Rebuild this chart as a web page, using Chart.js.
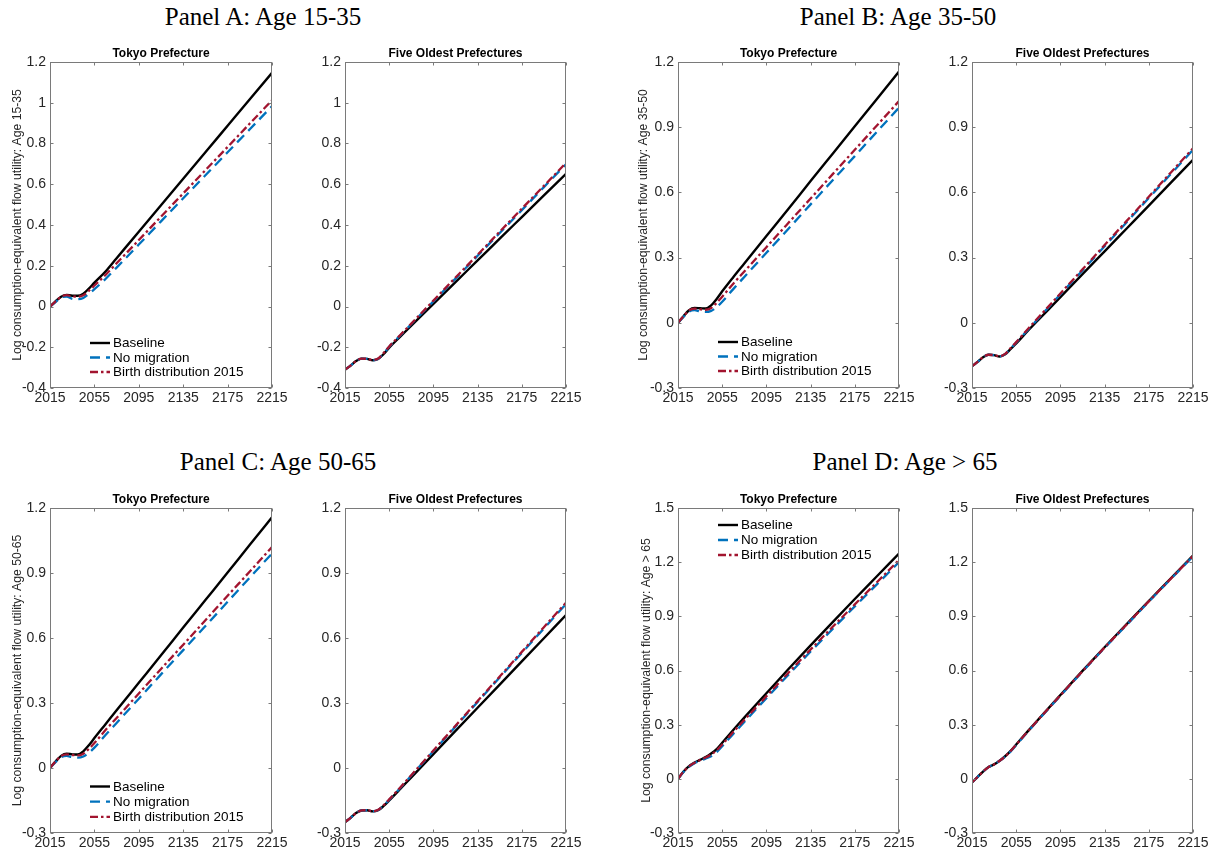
<!DOCTYPE html>
<html>
<head>
<meta charset="utf-8">
<script src="https://cdn.jsdelivr.net/npm/chart.js@4.4.1/dist/chart.umd.min.js"></script>
<style>
  body { margin: 0; background: #fff; width: 1216px; height: 856px; position: relative; overflow: hidden; }
  .ptitle { position: absolute; font-family: "Liberation Serif", serif; font-size: 25px; line-height: 25px; color: #000; white-space: nowrap; transform: translateX(-50%); }
  canvas { position: absolute; }
</style>
</head>
<body>
<div class="ptitle" style="left:263px;top:4px">Panel A: Age 15-35</div>
<div class="ptitle" style="left:898px;top:4px">Panel B: Age 35-50</div>
<div class="ptitle" style="left:278px;top:449px">Panel C: Age 50-65</div>
<div class="ptitle" style="left:905px;top:449px">Panel D: Age &gt; 65</div>

<canvas id="tokyoA"></canvas>
<canvas id="oldA"></canvas>
<canvas id="tokyoB"></canvas>
<canvas id="oldB"></canvas>
<canvas id="tokyoC"></canvas>
<canvas id="oldC"></canvas>
<canvas id="tokyoD"></canvas>
<canvas id="oldD"></canvas>

<script>
const years = [2015, 2020, 2025, 2030, 2035, 2040, 2045, 2050, 2055, 2065, 2075, 2095, 2115, 2135, 2155, 2175, 2195, 2215];
const xTicks = [2015, 2055, 2095, 2135, 2175, 2215];
const yTicksA = [-0.4, -0.2, 0, 0.2, 0.4, 0.6, 0.8, 1, 1.2];
const yTicksB = [-0.3, 0, 0.3, 0.6, 0.9, 1.2];
const yTicksC = [-0.3, 0, 0.3, 0.6, 0.9, 1.2];
const yTicksD = [-0.3, 0, 0.3, 0.6, 0.9, 1.2, 1.5];
const seriesNames = ['Baseline', 'No migration', 'Birth distribution 2015'];

// Panel A: Age 15-35
const tokyoA_base  = [0, 0.025, 0.048, 0.057, 0.053, 0.053, 0.063, 0.088, 0.117, 0.172, 0.237, 0.367, 0.497, 0.627, 0.757, 0.887, 1.017, 1.147];
const tokyoA_nomig = [0, 0.022, 0.044, 0.048, 0.038, 0.036, 0.042, 0.062, 0.085, 0.135, 0.191, 0.304, 0.418, 0.531, 0.644, 0.757, 0.870, 0.983];
const tokyoA_birth = [0, 0.025, 0.048, 0.056, 0.050, 0.048, 0.055, 0.077, 0.103, 0.155, 0.212, 0.326, 0.441, 0.555, 0.669, 0.783, 0.898, 1.012];
const oldA_base  = [-0.31, -0.29, -0.268, -0.256, -0.257, -0.264, -0.258, -0.233, -0.202, -0.148, -0.094, 0.013, 0.120, 0.226, 0.333, 0.439, 0.545, 0.651];
const oldA_nomig = [-0.31, -0.29, -0.268, -0.256, -0.257, -0.264, -0.256, -0.230, -0.198, -0.142, -0.086, 0.025, 0.137, 0.249, 0.361, 0.473, 0.586, 0.698];
const oldA_birth = [-0.31, -0.29, -0.268, -0.256, -0.257, -0.263, -0.255, -0.228, -0.196, -0.140, -0.084, 0.029, 0.142, 0.254, 0.367, 0.480, 0.592, 0.705];

// Panel B: Age 35-50
const tokyoB_base  = [0, 0.030, 0.058, 0.068, 0.067, 0.066, 0.080, 0.110, 0.145, 0.210, 0.273, 0.399, 0.525, 0.652, 0.778, 0.904, 1.030, 1.156];
const tokyoB_nomig = [0, 0.027, 0.052, 0.058, 0.052, 0.050, 0.055, 0.072, 0.097, 0.155, 0.211, 0.322, 0.433, 0.545, 0.656, 0.767, 0.879, 0.990];
const tokyoB_birth = [0, 0.030, 0.057, 0.065, 0.062, 0.060, 0.068, 0.092, 0.120, 0.180, 0.236, 0.348, 0.460, 0.572, 0.684, 0.796, 0.908, 1.020];
const oldB_base  = [-0.2, -0.18, -0.158, -0.147, -0.149, -0.155, -0.145, -0.120, -0.095, -0.040, 0.013, 0.118, 0.224, 0.329, 0.434, 0.539, 0.645, 0.750];
const oldB_nomig = [-0.2, -0.18, -0.158, -0.147, -0.149, -0.155, -0.144, -0.118, -0.091, -0.035, 0.020, 0.131, 0.241, 0.352, 0.463, 0.574, 0.685, 0.796];
const oldB_birth = [-0.2, -0.18, -0.158, -0.147, -0.149, -0.154, -0.143, -0.116, -0.089, -0.032, 0.024, 0.135, 0.246, 0.358, 0.469, 0.580, 0.692, 0.803];

// Panel C: Age 50-65
const tokyoC_base  = [0, 0.030, 0.056, 0.066, 0.063, 0.062, 0.077, 0.105, 0.138, 0.202, 0.266, 0.393, 0.520, 0.648, 0.775, 0.902, 1.030, 1.157];
const tokyoC_nomig = [0, 0.027, 0.050, 0.056, 0.050, 0.048, 0.053, 0.070, 0.094, 0.152, 0.208, 0.320, 0.432, 0.544, 0.655, 0.767, 0.879, 0.990];
const tokyoC_birth = [0, 0.030, 0.055, 0.063, 0.060, 0.058, 0.066, 0.088, 0.115, 0.175, 0.231, 0.344, 0.457, 0.569, 0.682, 0.795, 0.907, 1.020];
const oldC_base  = [-0.25, -0.23, -0.208, -0.196, -0.195, -0.200, -0.195, -0.175, -0.150, -0.097, -0.043, 0.064, 0.171, 0.278, 0.385, 0.492, 0.599, 0.706];
const oldC_nomig = [-0.25, -0.23, -0.208, -0.196, -0.195, -0.200, -0.194, -0.172, -0.147, -0.092, -0.035, 0.078, 0.191, 0.305, 0.418, 0.531, 0.644, 0.757];
const oldC_birth = [-0.25, -0.23, -0.208, -0.196, -0.195, -0.199, -0.193, -0.171, -0.145, -0.090, -0.033, 0.081, 0.195, 0.309, 0.422, 0.536, 0.650, 0.763];

// Panel D: Age > 65
const tokyoD_base  = [0, 0.040, 0.070, 0.090, 0.105, 0.120, 0.140, 0.165, 0.200, 0.270, 0.339, 0.474, 0.608, 0.739, 0.868, 0.996, 1.122, 1.248];
const tokyoD_nomig = [0, 0.038, 0.067, 0.087, 0.100, 0.112, 0.125, 0.148, 0.180, 0.249, 0.315, 0.447, 0.577, 0.705, 0.830, 0.955, 1.077, 1.200];
const tokyoD_birth = [0, 0.040, 0.069, 0.089, 0.104, 0.118, 0.135, 0.158, 0.190, 0.259, 0.326, 0.457, 0.588, 0.716, 0.842, 0.966, 1.089, 1.212];
const oldD_base  = [-0.02, 0.010, 0.040, 0.065, 0.080, 0.100, 0.125, 0.155, 0.190, 0.260, 0.329, 0.464, 0.598, 0.729, 0.857, 0.985, 1.111, 1.237];
const oldD_nomig = [-0.02, 0.010, 0.040, 0.065, 0.080, 0.100, 0.123, 0.152, 0.187, 0.257, 0.326, 0.460, 0.594, 0.725, 0.853, 0.981, 1.107, 1.232];
const oldD_birth = [-0.02, 0.010, 0.040, 0.065, 0.080, 0.100, 0.124, 0.154, 0.189, 0.259, 0.328, 0.462, 0.596, 0.727, 0.855, 0.983, 1.109, 1.234];

Chart.defaults.font.family = '"Liberation Sans", Arial, sans-serif';
Chart.defaults.color = '#262626';

const lineStyles = [
  { color: '#000000', dash: [], order: 3, width: 2.4 },
  { color: '#0072BD', dash: [10, 6], order: 2, width: 2.3 },
  { color: '#A2142F', dash: [8, 3, 2.5, 3], order: 1, width: 2.3 }
];

// frame, inside ticks, subplot title and in-plot legend (matlab look)
const decor = {
  id: 'decor',
  afterDraw(chart, args, opts) {
    const { ctx, chartArea: a } = chart;
    const xs = chart.scales.x, ys = chart.scales.y;
    ctx.save();
    const l = Math.round(a.left) + 0.5, r = Math.round(a.right) - 0.5;
    const t = Math.round(a.top) + 0.5, b = Math.round(a.bottom) - 0.5;
    ctx.strokeStyle = '#7a7a7a';
    ctx.lineWidth = 1;
    ctx.setLineDash([]);
    ctx.strokeRect(l, t, r - l, b - t);
    const tl = 3;
    ctx.beginPath();
    xs.ticks.forEach(tk => {
      const px = Math.round(xs.getPixelForValue(tk.value)) + 0.5;
      ctx.moveTo(px, b); ctx.lineTo(px, b - tl);
      ctx.moveTo(px, t); ctx.lineTo(px, t + tl);
    });
    ys.ticks.forEach(tk => {
      const py = Math.round(ys.getPixelForValue(tk.value)) + 0.5;
      ctx.moveTo(l, py); ctx.lineTo(l + tl, py);
      ctx.moveTo(r, py); ctx.lineTo(r - tl, py);
    });
    ctx.stroke();

    ctx.fillStyle = '#000';
    ctx.font = 'bold 12px "Liberation Sans"';
    ctx.textAlign = 'center';
    ctx.textBaseline = 'alphabetic';
    ctx.fillText(opts.title, (a.left + a.right) / 2, a.top - 4.7);

    if (opts.legend) {
      const lg = opts.legend;
      ctx.font = '13.5px "Liberation Sans"';
      ctx.textAlign = 'left';
      ctx.textBaseline = 'middle';
      chart.data.datasets.forEach((ds, i) => {
        const yy = a.top + lg.dy + i * lg.row;
        const x0 = a.left + lg.dx;
        ctx.strokeStyle = ds.borderColor;
        ctx.lineWidth = ds.borderWidth;
        ctx.setLineDash(ds.borderDash);
        ctx.beginPath();
        ctx.moveTo(x0, yy); ctx.lineTo(x0 + 20, yy);
        ctx.stroke();
        ctx.fillStyle = '#000';
        ctx.fillText(ds.label, x0 + 23, yy + 0.5);
      });
    }
    ctx.restore();
  }
};

function makeChart(id, box, yTicks, series, opts) {
  const L = 50, T = 30, R = 18, B = 22;
  const cv = document.getElementById(id);
  cv.width = L + box.w + R;
  cv.height = T + box.h + B;
  cv.style.left = (box.x - L) + 'px';
  cv.style.top = (box.y - T) + 'px';

  const datasets = series.map((vals, i) => ({
    label: seriesNames[i],
    data: years.map((yr, k) => ({ x: yr, y: vals[k] })),
    borderColor: lineStyles[i].color,
    borderDash: lineStyles[i].dash,
    borderWidth: lineStyles[i].width,
    order: lineStyles[i].order,
    pointRadius: 0,
    fill: false,
    cubicInterpolationMode: 'monotone'
  }));

  new Chart(cv, {
    type: 'line',
    data: { datasets },
    options: {
      responsive: false,
      animation: false,
      devicePixelRatio: 1,
      layout: { padding: { left: 0, top: T, right: R, bottom: 0 } },
      plugins: {
        legend: { display: false },
        tooltip: { enabled: false },
        decor: { title: opts.title, legend: opts.legend }
      },
      scales: {
        x: {
          type: 'linear',
          min: xTicks[0],
          max: xTicks[xTicks.length - 1],
          grid: { display: false, drawTicks: false },
          border: { display: false },
          afterBuildTicks: s => { s.ticks = xTicks.map(v => ({ value: v })); },
          afterFit: s => { s.height = B; s.paddingLeft = 0; s.paddingRight = 0; },
          ticks: {
            autoSkip: false, maxRotation: 0, padding: 1.5,
            font: { size: 14 }, color: '#262626',
            callback: v => String(v)
          }
        },
        y: {
          min: yTicks[0],
          max: yTicks[yTicks.length - 1],
          grid: { display: false, drawTicks: false },
          border: { display: false },
          afterBuildTicks: s => { s.ticks = yTicks.map(v => ({ value: v })); },
          afterFit: s => { s.width = L; s.paddingTop = 0; s.paddingBottom = 0; },
          ticks: {
            autoSkip: false, padding: 4,
            font: { size: 14 }, color: '#262626',
            callback: v => String(+Number(v).toFixed(1))
          },
          title: {
            display: !!opts.ytitle,
            text: opts.ytitle || '',
            color: '#262626',
            font: { size: 12.2 },
            padding: { top: L - (opts.ygap || 32) - 7.3, bottom: 0 }
          }
        }
      }
    },
    plugins: [decor]
  });
}

const ylab = 'Log consumption-equivalent flow utility: ';

makeChart('tokyoA', { x: 50, y: 62, w: 222, h: 326 }, yTicksA, [tokyoA_base, tokyoA_nomig, tokyoA_birth],
  { title: 'Tokyo Prefecture', ytitle: ylab + 'Age 15-35', ygap: 32, legend: { dx: 40, dy: 281, row: 14.5 } });
makeChart('oldA', { x: 345, y: 62, w: 221, h: 326 }, yTicksA, [oldA_base, oldA_nomig, oldA_birth],
  { title: 'Five Oldest Prefectures' });

makeChart('tokyoB', { x: 678, y: 62, w: 221, h: 326 }, yTicksB, [tokyoB_base, tokyoB_nomig, tokyoB_birth],
  { title: 'Tokyo Prefecture', ytitle: ylab + 'Age 35-50', ygap: 34, legend: { dx: 40, dy: 280, row: 14.5 } });
makeChart('oldB', { x: 972, y: 62, w: 221, h: 326 }, yTicksB, [oldB_base, oldB_nomig, oldB_birth],
  { title: 'Five Oldest Prefectures' });

makeChart('tokyoC', { x: 50, y: 508, w: 222, h: 325 }, yTicksC, [tokyoC_base, tokyoC_nomig, tokyoC_birth],
  { title: 'Tokyo Prefecture', ytitle: ylab + 'Age 50-65', ygap: 32, legend: { dx: 40, dy: 278.5, row: 15.2 } });
makeChart('oldC', { x: 345, y: 508, w: 221, h: 325 }, yTicksC, [oldC_base, oldC_nomig, oldC_birth],
  { title: 'Five Oldest Prefectures' });

makeChart('tokyoD', { x: 678, y: 508, w: 221, h: 325 }, yTicksD, [tokyoD_base, tokyoD_nomig, tokyoD_birth],
  { title: 'Tokyo Prefecture', ytitle: ylab + 'Age > 65', ygap: 31, legend: { dx: 40, dy: 17, row: 15 } });
makeChart('oldD', { x: 972, y: 508, w: 221, h: 325 }, yTicksD, [oldD_base, oldD_nomig, oldD_birth],
  { title: 'Five Oldest Prefectures' });
</script>
</body>
</html>
